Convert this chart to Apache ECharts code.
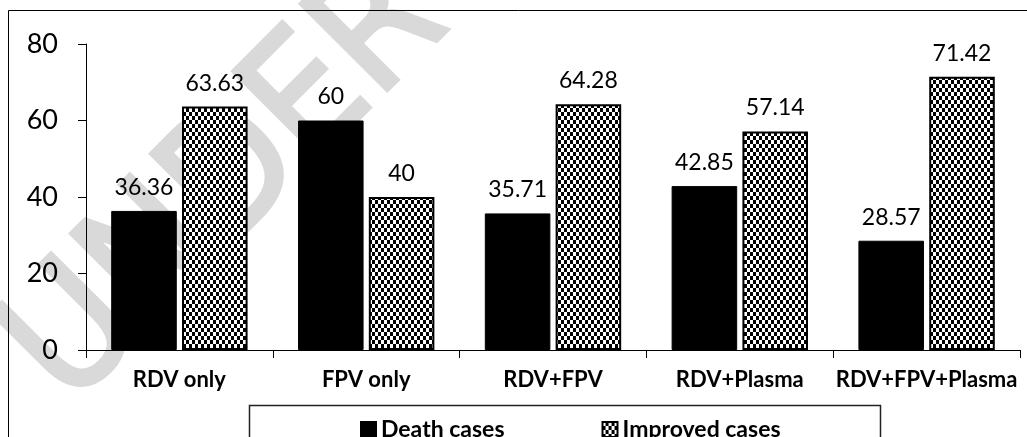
<!DOCTYPE html>
<html>
<head>
<meta charset="utf-8">
<script src="https://cdn.jsdelivr.net/npm/echarts@6/dist/echarts.min.js"></script>
<style>
  html, body { margin: 0; padding: 0; background: #fff; }
  #main { width: 1027px; height: 437px; }
</style>
</head>
<body>
<div id="main"></div>
<script>
var categories = ['RDV only', 'FPV only', 'RDV+FPV', 'RDV+Plasma', 'RDV+FPV+Plasma']
var deathCases = [36.36, 60, 35.71, 42.85, 28.57]
var improvedCases = [63.63, 40, 64.28, 57.14, 71.42]
var seriesNames = ['Death cases', 'Improved cases']
var yTicks = [0, 20, 40, 60, 80]

// small checker fill like the excel pattern
function makeChecker() {
    var c = document.createElement('canvas')
    c.width = 6
    c.height = 8
    var ctx = c.getContext('2d')
    ctx.fillStyle = '#000'
    ctx.fillRect(0, 0, 6, 8)
    ctx.fillStyle = '#fff'
    ctx.fillRect(0, 0, 3, 4)
    ctx.fillRect(3, 4, 3, 4)
    return c
}
var checker = { image: makeChecker(), repeat: 'repeat' }

var myChart = echarts.init(document.getElementById('main'))

var labelStyle = {
    show: true,
    position: 'top',
    distance: 12,
    fontFamily: 'Lato',
    fontSize: 23,
    color: '#000'
}

var option = {
    backgroundColor: '#fff',
    animation: false,
    textStyle: { fontFamily: 'Lato', color: '#000' },
    graphic: [
        {
            type: 'text',
            z: -10,
            x: 38,
            y: 378,
            rotation: Math.PI / 4,
            style: {
                text: 'UNDER REVIEW',
                font: 'normal 168px "DejaVu Sans Condensed", "DejaVu Sans"',
                fill: '#d9d9d9',
                stroke: '#d9d9d9',
                lineWidth: 4,
                lineJoin: 'round',
                textVerticalAlign: 'middle'
            }
        },
        {
            type: 'rect',
            z: 5,
            shape: { x: 8.5, y: 10.5, width: 1040, height: 440 },
            style: { fill: null, stroke: '#000', lineWidth: 1 }
        },
        {
            type: 'rect',
            z: 5,
            shape: { x: 249.5, y: 405.5, width: 631, height: 60 },
            style: { fill: '#fff', stroke: '#222', lineWidth: 1.5 }
        }
    ],
    grid: {
        left: 86,
        top: 44,
        right: 7,
        bottom: 87
    },
    legend: {
        z: 10,
        left: 355,
        top: 413,
        icon: 'rect',
        itemWidth: 15,
        itemHeight: 15,
        itemGap: 97,
        data: seriesNames,
        textStyle: { fontFamily: 'Lato', fontWeight: 'bold', fontSize: 23, color: '#000' }
    },
    xAxis: {
        type: 'category',
        data: categories,
        axisLine: { lineStyle: { color: '#000', width: 1 } },
        axisTick: { show: true, length: 8, lineStyle: { color: '#000' } },
        axisLabel: {
            interval: 0,
            margin: 19,
            fontFamily: 'Lato',
            fontWeight: 'bold',
            fontSize: 22,
            color: '#000'
        }
    },
    yAxis: {
        type: 'value',
        min: yTicks[0],
        max: yTicks[yTicks.length - 1],
        interval: 20,
        axisLine: { show: true, lineStyle: { color: '#000', width: 1 } },
        axisTick: { show: true, length: 8, lineStyle: { color: '#000' } },
        splitLine: { show: false },
        axisLabel: { margin: 28, fontFamily: 'Lato', fontSize: 27, color: '#000' }
    },
    series: [
        {
            name: seriesNames[0],
            type: 'bar',
            data: deathCases,
            barGap: '8%',
            barCategoryGap: '27%',
            itemStyle: { color: '#000', borderColor: '#000', borderWidth: 1 },
            label: labelStyle
        },
        {
            name: seriesNames[1],
            type: 'bar',
            data: improvedCases,
            itemStyle: { color: checker, borderColor: '#000', borderWidth: 2 },
            label: labelStyle
        }
    ]
}

myChart.setOption(option)
</script>
</body>
</html>
